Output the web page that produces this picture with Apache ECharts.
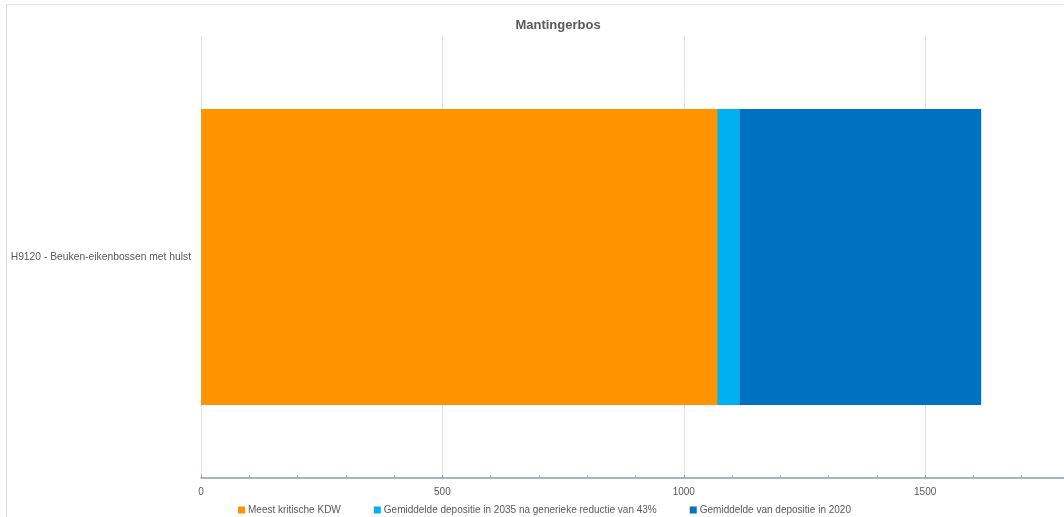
<!DOCTYPE html>
<html>
<head>
<meta charset="utf-8">
<script src="https://cdn.jsdelivr.net/npm/echarts@6/dist/echarts.min.js"></script>
<style>
html,body{margin:0;padding:0;overflow:hidden;background:#fff;width:1064px;height:517px;}
#c{width:1080px;height:517px;}
</style>
</head>
<body>
<div id="c"></div>
<script>
const categories = ['H9120 - Beuken-eikenbossen met hulst'];
const seriesNames = ['Meest kritische KDW', 'Gemiddelde depositie in 2035 na generieke reductie van 43%', 'Gemiddelde van depositie in 2020'];
const kdw = [1069];
const dep2035 = [46];
const dep2020 = [501];
const colors = ['#FF9300', '#00B0F0', '#0070C0'];
const chartTitle = 'Mantingerbos';

const font = '"Liberation Sans", Arial, sans-serif';
const chart = echarts.init(document.getElementById('c'), null, {renderer: 'canvas'});
const values = [kdw, dep2035, dep2020];
chart.setOption({
  animation: false,
  textStyle: {fontFamily: font},
  title: {
    text: chartTitle,
    left: 553, top: 14, textAlign: 'center',
    textStyle: {fontSize: 13, fontWeight: 'bold', color: '#595959', fontFamily: font}
  },
  graphic: [
    {type: 'line', shape: {x1: 6.5, y1: 4, x2: 6.5, y2: 517}, style: {stroke: '#d9d9d9', lineWidth: 1}, silent: true},
    {type: 'line', shape: {x1: 6, y1: 4.5, x2: 1080, y2: 4.5}, style: {stroke: '#e6e6e6', lineWidth: 1}, silent: true}
  ],
  legend: {
    left: 233, top: 500,
    itemWidth: 7, itemHeight: 7, itemGap: 33,
    icon: 'rect',
    textStyle: {fontSize: 10, color: '#595959', fontFamily: font, padding: [0, 0, 0, -2]},
    data: seriesNames
  },
  grid: {left: 201, right: 10, top: 36, bottom: 39, containLabel: false},
  xAxis: {
    type: 'value', min: 0, max: 1800, interval: 500,
    axisLine: {show: true, lineStyle: {color: '#7fa3b8', width: 1.5}},
    axisTick: {show: true, length: 3, inside: true, lineStyle: {color: '#7fa3b8'}},
    minorTick: {show: true, splitNumber: 5, length: 3, lineStyle: {color: '#9bb6c6'}},
    axisLabel: {fontSize: 10, color: '#595959', margin: 9, showMaxLabel: false, fontFamily: font,
      formatter: v => String(v)},
    splitLine: {show: true, lineStyle: {color: '#e3e3e3', width: 1}}
  },
  yAxis: {
    type: 'category', data: categories,
    axisLine: {show: false}, axisTick: {show: false},
    axisLabel: {fontSize: 10.3, color: '#595959', margin: 10, fontFamily: font}
  },
  series: seriesNames.map((n, i) => ({
    name: n, type: 'bar', stack: 'total', barWidth: '67%',
    itemStyle: {color: colors[i]},
    data: values[i]
  }))
});
</script>
</body>
</html>
